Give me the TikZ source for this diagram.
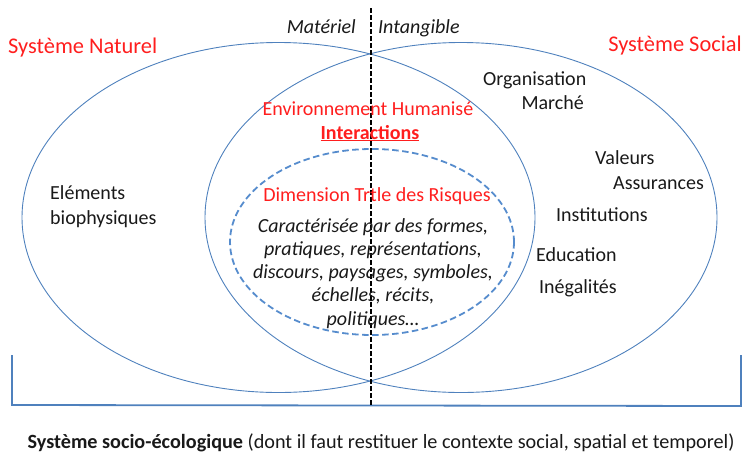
\documentclass[tikz,border=0pt]{standalone}
\usepackage{fontspec}
\setmainfont{Carlito}
\usetikzlibrary{shapes.geometric}
\definecolor{obl}{RGB}{79,129,189}
\definecolor{dbl}{RGB}{86,140,205}
\definecolor{tred}{RGB}{255,30,30}
\definecolor{tgray}{RGB}{25,25,25}
\tikzset{
  venn/.style={draw=obl, line width=0.9pt},
  dashell/.style={draw=dbl, line width=1.8pt, dash pattern=on 6.5pt off 3.5pt},
  sep/.style={draw=black, line width=2pt, dash pattern=on 5pt off 2pt},
  brack/.style={draw=obl, line width=1.8pt},
  lbl/.style={inner sep=0pt, text=tgray, font=\fontsize{20}{24}\selectfont},
  title/.style={inner sep=0pt, text=tred, font=\fontsize{22.4}{26}\selectfont},
  sub/.style={inner sep=0pt, text=tred, font=\fontsize{20}{24}\selectfont},
  ital/.style={inner sep=0pt, text=tgray, font=\itshape\fontsize{20}{23.3}\selectfont},
}
\begin{document}
\begin{tikzpicture}[x=1pt,y=-1pt]
\useasboundingbox (0,0) rectangle (744,453);
% ellipses
\coordinate (nat) at (278.5,217.5);
\coordinate (soc) at (461,217.5);
\coordinate (risk) at (372,242);
\draw[venn] (nat) ellipse [x radius=256.5, y radius=175];
\draw[venn] (soc) ellipse [x radius=256, y radius=175];
\draw[dashell] (risk) ellipse [x radius=142, y radius=93];
% bracket
\coordinate (bl) at (12,355);
\coordinate (bll) at (12,405);
\coordinate (brr) at (741,406);
\coordinate (br) at (741,355);
\draw[brack] (bl) -- (bll) -- (brr) -- (br);
% separator
\coordinate (st) at (370.5,8);
\coordinate (sb) at (370.5,405);
\draw[sep] (st) -- (sb);
% texts
\node[lbl, font=\itshape\fontsize{20}{24}\selectfont, anchor=base east] (mat) at (356,33) {Matériel};
\node[lbl, font=\itshape\fontsize{20}{24}\selectfont, anchor=base west] (intg) at (378,33) {Intangible};
\node[title, anchor=base west] (snat) at (8,53) {Système Naturel};
\node[title, anchor=base east] (ssoc) at (742,51) {Système Social};
\node[sub, anchor=base] (env) at (368,115) {Environnement Humanisé};
\node[sub, anchor=base] (inter) at (370,139) {\underline{\textbf{Interactions}}};
\node[sub, anchor=base] (dim) at (377,201) {Dimension Trtle des Risques};
\node[ital, align=center, anchor=north] (car) at (373,218) {Caractérisée par des formes,\\pratiques, représentations,\\discours, paysages, symboles,\\échelles, récits,\\politiques…};
\node[lbl, anchor=base west] (elem) at (50,199) {Eléments};
\node[lbl, anchor=base west] (bio) at (50,224) {biophysiques};
\node[lbl, anchor=base west] (org) at (483,85) {Organisation};
\node[lbl, anchor=base east] (mar) at (584,109) {Marché};
\node[lbl, anchor=base west] (val) at (595,164) {Valeurs};
\node[lbl, anchor=base west] (ass) at (613,189) {Assurances};
\node[lbl, anchor=base west] (ins) at (556,221) {Institutions};
\node[lbl, anchor=base west] (edu) at (536,261) {Education};
\node[lbl, anchor=base west] (ineg) at (539,293) {Inégalités};
\node[lbl, anchor=base, font=\fontsize{20.2}{24}\selectfont] (sse) at (381,448) {\textbf{Système socio-écologique} (dont il faut restituer le contexte social, spatial et temporel)};
\end{tikzpicture}
\end{document}
